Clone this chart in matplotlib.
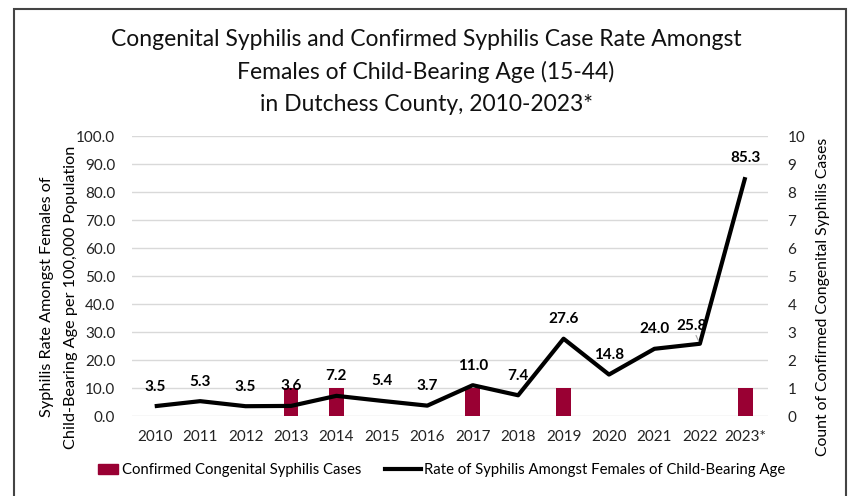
import matplotlib.pyplot as plt
from matplotlib.patches import Rectangle
from matplotlib.lines import Line2D
from matplotlib.legend_handler import HandlerPatch

plt.rcParams['font.family'] = ['Lato', 'DejaVu Sans']

years = ["2010", "2011", "2012", "2013", "2014", "2015", "2016",
         "2017", "2018", "2019", "2020", "2021", "2022", "2023*"]
rate = [3.5, 5.3, 3.5, 3.6, 7.2, 5.4, 3.7, 11.0, 7.4, 27.6, 14.8, 24.0, 25.8, 85.3]
cases = [0, 0, 0, 1, 1, 0, 0, 1, 0, 1, 0, 0, 0, 1]

bar_color = "#990033"
grid_color = "#D9D9D9"

fig = plt.figure(figsize=(8.52, 4.96), dpi=100)
ax = fig.add_axes([132 / 852, 1 - 416 / 496, 636 / 852, 280 / 496])
ax2 = ax.twinx()

x = list(range(len(years)))

# bars on the secondary axis, line on the primary axis (drawn on top)
ax2.bar(x, cases, width=0.32, color=bar_color, zorder=2)
ax2.set_ylim(0, 10)
ax2.set_yticks(range(0, 11))
ax.set_zorder(ax2.get_zorder() + 1)
ax.patch.set_visible(False)

ax.plot(x, rate, color="black", lw=3, solid_capstyle="butt", zorder=3)
ax.set_ylim(0, 100)
ax.set_yticks(range(0, 101, 10))
ax.set_yticklabels([f"{v:.1f}" for v in range(0, 101, 10)])
ax.set_xlim(-0.5, len(years) - 0.5)
ax.set_xticks(x)
ax.set_xticklabels(years)

for a in (ax, ax2):
    for s in a.spines.values():
        s.set_visible(False)
    a.tick_params(length=0, labelsize=11, colors="#222222")
ax.tick_params(axis="x", pad=10)
ax.tick_params(axis="y", pad=12)
ax2.tick_params(axis="y", pad=14)

for v in range(0, 101, 10):
    ax2.axhline(v / 10, color=grid_color, lw=1, zorder=0)

for i, v in enumerate(rate):
    if years[i] == "2022":
        ax.annotate(f"{v:.1f}", (i, v), xytext=(-6, 8), textcoords="offset points",
                    ha="center", va="bottom", fontsize=11, fontweight="bold",
                    arrowprops=dict(arrowstyle="-", color="#A0A0A0", lw=0.8,
                                    shrinkA=0, shrinkB=2))
    else:
        ax.annotate(f"{v:.1f}", (i, v), xytext=(0, 9), textcoords="offset points",
                    ha="center", va="bottom", fontsize=11, fontweight="bold")

ax.set_ylabel("Syphilis Rate Amongst Females of\nChild-Bearing Age per 100,000 Population",
              fontsize=11.7, linespacing=1.9)
ax.yaxis.set_label_coords(-54 / 636, (416 - 297) / 280)
ax2.set_ylabel("Count of Confirmed Congenital Syphilis Cases", fontsize=11.3)
ax2.yaxis.set_label_coords(1 + 48 / 636, (416 - 297) / 280)

fig.text(0.5, 1 - 72 / 496,
         "Congenital Syphilis and Confirmed Syphilis Case Rate Amongst\n"
         "Females of Child-Bearing Age (15-44)\nin Dutchess County, 2010-2023*",
         ha="center", va="center", fontsize=16.5, linespacing=1.6, color="#111111")


def bar_patch(legend, orig_handle, xdescent, ydescent, width, height, fontsize):
    w = width * 0.55
    return Rectangle((width - w - xdescent, -ydescent), w, height)


handles = [Rectangle((0, 0), 1, 1, color=bar_color),
           Line2D([0], [0], color="black", lw=3)]
labels = ["Confirmed Congenital Syphilis Cases",
          "Rate of Syphilis Amongst Females of Child-Bearing Age"]
fig.legend(handles, labels, loc="center", bbox_to_anchor=(434 / 852, 1 - 470 / 496),
           ncol=2, frameon=False, fontsize=10.7, handlelength=2.4, columnspacing=1.6,
           handletextpad=0.25,
           handler_map={Rectangle: HandlerPatch(patch_func=bar_patch)})

fig.patches.append(Rectangle((14 / 852, -0.05), 832 / 852, 1.05 - 9 / 496,
                             transform=fig.transFigure, fill=False,
                             edgecolor="#444444", lw=1.5))

fig.savefig("out.png", dpi=100)
